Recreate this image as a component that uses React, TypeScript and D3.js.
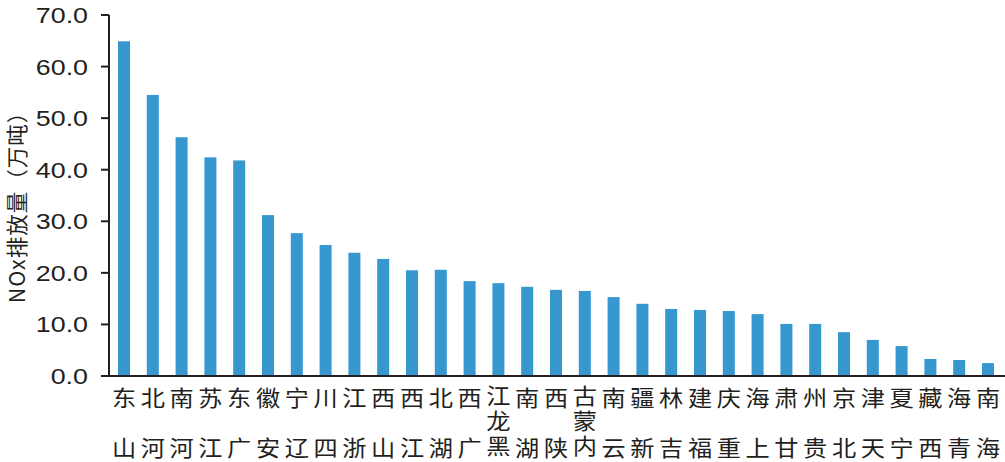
import React from "react";
import * as d3 from "d3";

const provinces: string[] = [
  "山东", "河北", "河南", "江苏", "广东", "安徽", "辽宁", "四川", "浙江", "山西",
  "江西", "湖北", "广西", "黑龙江", "湖南", "陕西", "内蒙古", "云南", "新疆", "吉林",
  "福建", "重庆", "上海", "甘肃", "贵州", "北京", "天津", "宁夏", "西藏", "青海", "海南",
];
const noxValues: number[] = [
  64.9, 54.5, 46.3, 42.4, 41.8, 31.2, 27.7, 25.4, 23.9, 22.7,
  20.5, 20.6, 18.4, 18.0, 17.3, 16.7, 16.5, 15.3, 14.0, 13.0,
  12.8, 12.6, 12.0, 10.1, 10.1, 8.5, 7.0, 5.8, 3.3, 3.1, 2.5,
];
const yTicks: number[] = [0, 10, 20, 30, 40, 50, 60, 70];
const yTitle = "NOx排放量（万吨）";

export default function App() {
  const W = 1005, H = 462;
  const left = 109, top = 15, bottom = 376;
  const x = d3.scaleBand<string>().domain(provinces).range([109.6, 1002.4]).paddingInner(0.583).paddingOuter(0.2915);
  const y = d3.scaleLinear().domain([0, 70]).range([bottom, top]);
  const ink = "#231f20";
  const barColor = "#3797cf";
  const cjk = "'Noto Sans CJK SC', 'Liberation Sans', sans-serif";
  const num = "'Liberation Sans', Arial, sans-serif";
  const fs = 22;
  const yTop = 396, yBottom = 446;

  return (
    <svg width={W} height={H} style={{ position: "absolute", left: 0, top: 0, background: "#fff" }}>
      {provinces.map((p, i) => (
        <rect key={p} x={x(p)!} y={y(noxValues[i])} width={x.bandwidth()} height={bottom - y(noxValues[i])} fill={barColor} />
      ))}
      {/* y axis */}
      <line x1={left} x2={left} y1={top} y2={bottom} stroke={ink} strokeWidth={2} />
      {yTicks.map((t) => (
        <g key={t}>
          <line x1={left - 8} x2={left} y1={y(t)} y2={y(t)} stroke={ink} strokeWidth={2} />
          <g transform={`translate(88,${y(t) + 8}) scale(1.22,1)`}>
            <text x={0} y={0} textAnchor="end" fontFamily={num} fontSize={22} fill={ink}>
              {d3.format(".1f")(t)}
            </text>
          </g>
        </g>
      ))}
      {/* x axis */}
      <line x1={left - 1} x2={W} y1={bottom} y2={bottom} stroke={ink} strokeWidth={2} />
      {provinces.map((p) => {
        const cx = x(p)! + x.bandwidth() / 2;
        const chars = Array.from(p);
        const n = chars.length;
        if (n === 2) {
          return (
            <g key={p}>
              {chars.map((c, k) => (
                <g key={k} transform={`translate(${cx},${k === 0 ? yBottom : yTop}) scale(1.1,1)`}>
                  <text x={0} y={0} textAnchor="middle" dominantBaseline="central" fontFamily={cjk} fontSize={fs} fill={ink}>
                    {c}
                  </text>
                </g>
              ))}
            </g>
          );
        }
        const step = (yBottom - yTop) / (n - 1);
        const ls = step - fs;
        const shown = chars.slice().reverse().join("");
        return (
          <g key={p} transform={`translate(${cx},${yTop - fs / 2}) scale(1.1,1)`}>
            <text
              x={0}
              y={0}
              fontFamily={cjk}
              fontSize={fs}
              fill={ink}
              style={{ writingMode: "vertical-rl", textOrientation: "upright", letterSpacing: `${ls}px` } as any}
            >
              {shown}
            </text>
          </g>
        );
      })}
      <text
        transform={`translate(15,202) rotate(-90)`}
        textAnchor="middle"
        dominantBaseline="central"
        fontFamily={cjk}
        fontSize={21.5}
        fill={ink}
        style={{ letterSpacing: "1px" }}
      >
        {yTitle}
      </text>
    </svg>
  );
}
